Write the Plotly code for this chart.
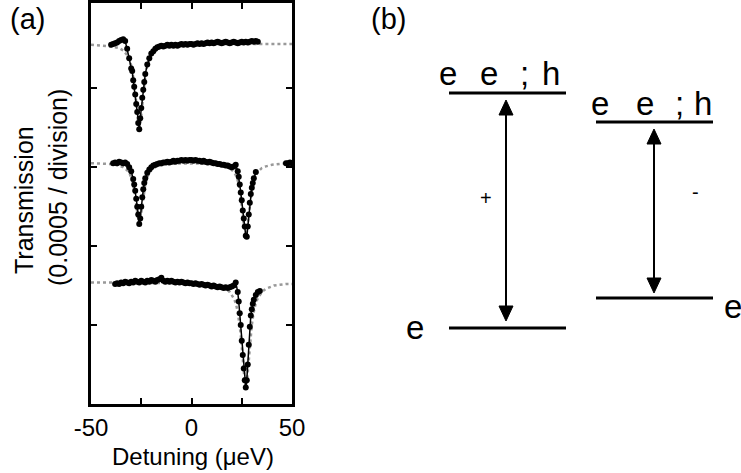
import plotly.graph_objects as go

# ---------------- Panel (a) data (y in units of 0.0005 / division) ----------------
top_x = [-40,-39,-38,-37,-36,-35,-34,-33,-32,-31,-30,-29.5,-29,-28.5,-28,-27.5,-27,-26.5,-26,-25.5,-25,-24.5,-24,-23.5,-23,
         -22,-21,-20,-19,-18,-17,-16,-15,-14,-13,-12,-11,-10,-9,-8,-7,-6,-5,-4,-3,-2,-1,0,1,2,3,4,5,6,7,8,9,10,
         11,12,13,14,15,16,17,18,19,20,21,22,23,24,25,26,27,28,29,30,31,32,33]
top_y = [4.55,4.56,4.57,4.58,4.60,4.61,4.62,4.60,4.50,4.38,4.25,4.22,4.10,4.02,3.92,3.80,3.70,3.56,3.48,3.62,3.75,3.88,3.98,4.08,4.18,
         4.30,4.38,4.44,4.47,4.50,4.52,4.53,4.54,4.53,4.54,4.55,4.54,4.55,4.54,4.55,4.54,4.55,4.56,4.55,4.56,4.55,4.56,4.56,4.55,4.56,4.57,4.56,4.57,4.56,4.57,4.58,4.57,4.58,
         4.57,4.58,4.59,4.58,4.57,4.58,4.59,4.58,4.57,4.58,4.59,4.58,4.57,4.58,4.59,4.58,4.59,4.58,4.59,4.60,4.59,4.60,4.59]

mid_x = [-39,-38,-37,-36,-35,-34,-33,-32,-31,-30,-29,-28.5,-28,-27.5,-27,-26.5,-26,-25.5,-25,-24.5,-24,-23.5,-23,-22,-21,-20,
         -19,-18,-17,-16,-15,-14,-13,-12,-11,-10,-9,-8,-7,-6,-5,-4,-3,-2,-1,0,1,2,3,4,5,6,7,8,9,10,11,12,13,14,15,16,17,18,19,20,
         21,22,23,23.5,24,24.5,25,25.5,26,26.5,27,27.5,28,28.5,29,29.5,30,30.5,31,32]
mid_y = [3.05,3.06,3.05,3.07,3.06,3.05,3.06,3.04,3.00,2.95,2.85,2.78,2.70,2.60,2.50,2.40,2.28,2.35,2.50,2.62,2.72,2.80,2.86,2.93,2.97,3.00,
         3.02,3.03,3.04,3.05,3.05,3.06,3.06,3.07,3.06,3.07,3.08,3.07,3.08,3.08,3.09,3.08,3.09,3.08,3.09,3.09,3.08,3.09,3.08,3.08,3.07,3.08,3.07,3.06,3.07,3.06,3.05,3.05,3.04,3.04,3.03,3.03,3.02,3.02,3.01,3.00,
         3.01,3.03,2.95,2.88,2.78,2.68,2.58,2.45,2.35,2.25,2.13,2.12,2.25,2.40,2.55,2.66,2.74,2.80,2.86,2.94]
mid_tail_x = [47, 48, 49, 50]
mid_tail_y = [3.05, 3.05, 3.06, 3.05]

bot_x = [-38,-37,-36,-35,-34,-33,-32,-31,-30,-29,-28,-27,-26,-25,-24,-23,-22,-21,-20,-19,-18,-17,-16,-15,-14,-13,-12,-11,-10,
         -9,-8,-7,-6,-5,-4,-3,-2,-1,0,1,2,3,4,5,6,7,8,9,10,11,12,13,14,15,16,17,18,19,20,21,22,23,23.5,24,24.5,25,25.5,26,26.5,
         27,27.5,28,28.5,29,29.5,30,30.5,31,32,33,34]
bot_y = [1.52,1.53,1.52,1.54,1.53,1.55,1.54,1.53,1.55,1.54,1.56,1.55,1.54,1.56,1.55,1.54,1.56,1.55,1.57,1.56,1.55,1.57,1.58,1.60,1.56,1.55,1.56,1.55,1.56,
         1.55,1.54,1.55,1.54,1.55,1.54,1.53,1.54,1.53,1.53,1.52,1.53,1.52,1.51,1.52,1.51,1.50,1.51,1.50,1.49,1.50,1.49,1.48,1.49,1.48,1.47,1.48,1.47,1.48,1.49,1.50,1.54,1.42,1.30,1.15,1.00,0.80,0.62,0.45,0.30,
         0.21,0.30,0.50,0.75,0.98,1.12,1.20,1.27,1.32,1.38,1.42,1.43]

# fitted curves
top_fit_x = [-50,-40,-36,-34,-32,-31,-30,-29,-28.5,-28,-27.5,-27,-26.5,-26,-25.5,-25,-24.5,-24,-23.5,-23,-22,-21,-20,-18,-16,-12,-6,4,14,50]
top_fit_y = [4.55,4.53,4.51,4.48,4.42,4.37,4.29,4.16,4.07,3.95,3.81,3.66,3.54,3.49,3.54,3.66,3.81,3.95,4.07,4.16,4.29,4.37,4.42,4.48,4.51,4.53,4.55,4.55,4.56,4.56]

mid_fit_x = [-50,-40,-36,-34,-32,-31,-30,-29,-28.5,-28,-27.5,-27,-26.5,-26,-25.5,-25,-24.5,-24,-23.5,-23,-22,-21,-20,-18,-16,-12,-6,0,6,12,15,17,19,
             21,22,23,24,24.5,25,25.5,26,26.5,27,27.5,28,28.5,29,29.5,30,31,32,33,35,37,40,45,50]
mid_fit_y = [3.05,3.04,3.02,3.00,2.96,2.93,2.87,2.78,2.71,2.63,2.53,2.42,2.33,2.30,2.33,2.42,2.53,2.63,2.71,2.78,2.87,2.93,2.96,3.00,3.02,3.04,3.046,3.047,3.045,3.036,3.025,3.01,2.99,
             2.94,2.90,2.83,2.71,2.63,2.53,2.41,2.28,2.17,2.13,2.17,2.28,2.41,2.53,2.63,2.71,2.83,2.90,2.94,2.99,3.01,3.03,3.045,3.05]

bot_fit_x = [-50,-10,0,7,13,17,19,21,22,23,24,24.5,25,25.5,26,26.5,27,27.5,28,28.5,29,29.5,30,31,32,33,35,37,41,47,50]
bot_fit_y = [1.54,1.535,1.53,1.52,1.50,1.46,1.42,1.34,1.28,1.17,1.00,0.88,0.73,0.57,0.40,0.27,0.22,0.27,0.40,0.57,0.73,0.88,1.00,1.17,1.28,1.34,1.42,1.46,1.50,1.52,1.52]

x_tick_vals = [-50, -25, 0, 25, 50]
x_tick_text = ["-50", "", "0", "", "50"]
y_tick_vals = [1, 2, 3, 4]

# ---------------- Panel (b) schematic (pixel space) ----------------
levels = [  # x0, x1, y
    (449, 566, 93), (449, 566, 328), (596, 713, 122), (596, 713, 298)]
arrows = [  # x, y_top, y_bottom
    (506, 100, 321), (654, 129, 293)]
level_glyphs = [  # text, x, y
    ("e", 448, 73), ("e", 489, 73), (";", 524, 73), ("h", 551, 73),
    ("e", 600, 103), ("e", 645, 103), (";", 679, 103), ("h", 703, 103),
    ("e", 415, 327), ("e", 733, 306)]
pol_labels = [("+", 486, 198), ("-", 695, 192)]

FONT = "Liberation Sans, Arial, sans-serif"

fig = go.Figure()
fit_style = dict(color="#999999", width=2.5, dash="dot")
for fx, fy in [(top_fit_x, top_fit_y), (mid_fit_x, mid_fit_y), (bot_fit_x, bot_fit_y)]:
    fig.add_trace(go.Scatter(x=fx, y=fy, mode="lines", line=fit_style, showlegend=False,
                             xaxis="x", yaxis="y"))
for dx, dy in [(top_x, top_y), (mid_x, mid_y), (mid_tail_x, mid_tail_y), (bot_x, bot_y)]:
    fig.add_trace(go.Scatter(x=dx, y=dy, mode="lines+markers",
                             line=dict(color="black", width=1.5),
                             marker=dict(color="black", size=6),
                             showlegend=False, xaxis="x", yaxis="y"))

shapes = []
for x0, x1, y in levels:
    shapes.append(dict(type="line", xref="x2", yref="y2", x0=x0, x1=x1, y0=y, y1=y,
                       line=dict(color="black", width=3)))
for x, yt, yb in arrows:
    shapes.append(dict(type="line", xref="x2", yref="y2", x0=x, x1=x, y0=yt + 12, y1=yb - 12,
                       line=dict(color="black", width=2)))
    shapes.append(dict(type="path", xref="x2", yref="y2",
                       path=f"M {x},{yt} L {x-7},{yt+15} L {x+7},{yt+15} Z",
                       fillcolor="black", line=dict(color="black", width=1)))
    shapes.append(dict(type="path", xref="x2", yref="y2",
                       path=f"M {x},{yb} L {x-7},{yb-15} L {x+7},{yb-15} Z",
                       fillcolor="black", line=dict(color="black", width=1)))

annotations = []
for t, x, y in level_glyphs:
    annotations.append(dict(text=t, x=x, y=y, xref="x2", yref="y2", showarrow=False,
                            xanchor="center", yanchor="middle", font=dict(size=33, family=FONT, color="black")))
for t, x, y in pol_labels:
    annotations.append(dict(text=t, x=x, y=y, xref="x2", yref="y2", showarrow=False,
                            xanchor="center", yanchor="middle", font=dict(size=20, family=FONT, color="black")))
annotations += [
    dict(text="(a)", x=27, y=19, xref="x2", yref="y2", showarrow=False, xanchor="center", yanchor="middle",
         font=dict(size=29, family=FONT, color="black")),
    dict(text="(b)", x=388, y=19, xref="x2", yref="y2", showarrow=False, xanchor="center", yanchor="middle",
         font=dict(size=29, family=FONT, color="black")),
    dict(text="Detuning (μeV)", x=193, y=456, xref="x2", yref="y2", showarrow=False, xanchor="center",
         yanchor="middle", font=dict(size=24, family=FONT, color="black")),
    dict(text="Transmission", x=24, y=200, xref="x2", yref="y2", showarrow=False, textangle=-90,
         xanchor="center", yanchor="middle", font=dict(size=25, family=FONT, color="black")),
    dict(text="(0.0005 / division)", x=58, y=188, xref="x2", yref="y2", showarrow=False, textangle=-90,
         xanchor="center", yanchor="middle", font=dict(size=25, family=FONT, color="black")),
]

fig.update_layout(
    width=741, height=473, autosize=False,
    margin=dict(l=0, r=0, t=0, b=0, autoexpand=False),
    paper_bgcolor="white", plot_bgcolor="rgba(0,0,0,0)",
    showlegend=False,
    xaxis=dict(domain=[91/741, 292/741], range=[-50, 50], anchor="y", automargin=False,
               tickvals=x_tick_vals, ticktext=x_tick_text, ticks="inside", ticklen=6, tickwidth=2,
               tickcolor="black", showline=True, linecolor="black", linewidth=3, mirror="ticks",
               showgrid=False, zeroline=False, tickfont=dict(size=24, family=FONT, color="black")),
    yaxis=dict(domain=[(473-404)/473, (473-3)/473], range=[0, 5.08], anchor="x", automargin=False,
               tickvals=y_tick_vals, showticklabels=False, ticks="inside", ticklen=6, tickwidth=2,
               tickcolor="black", showline=True, linecolor="black", linewidth=3, mirror="ticks",
               showgrid=False, zeroline=False),
    xaxis2=dict(domain=[0, 1], range=[0, 741], anchor="y2", visible=False, fixedrange=True, automargin=False),
    yaxis2=dict(domain=[0, 1], range=[473, 0], anchor="x2", visible=False, fixedrange=True, automargin=False),
    shapes=shapes, annotations=annotations,
)

fig.write_html("out.html", config={"displayModeBar": False},
               post_script="document.body.style.margin='0';")
